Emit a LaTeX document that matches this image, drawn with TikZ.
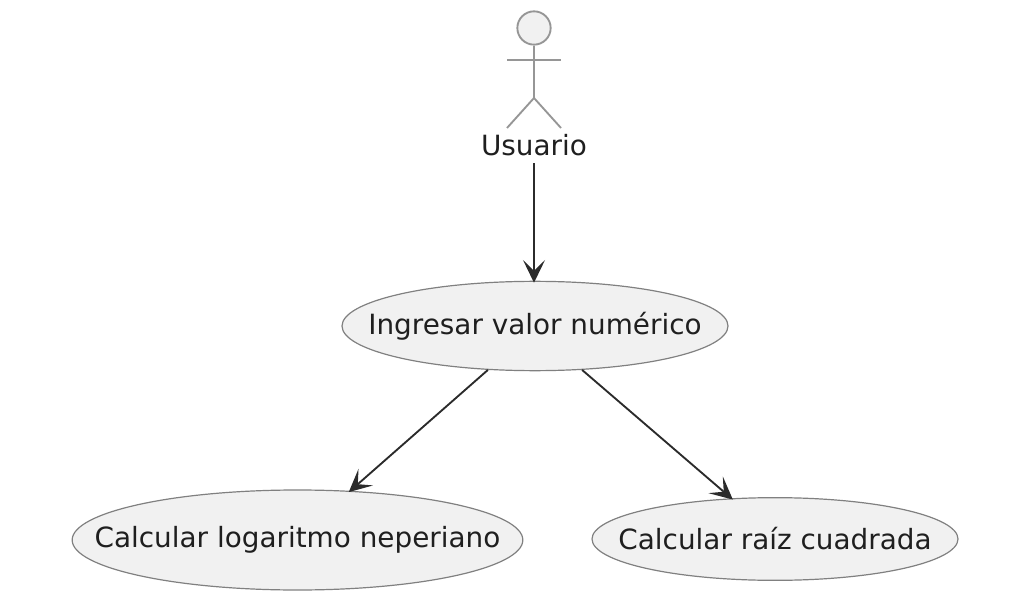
\documentclass[tikz,border=0pt]{standalone}
\usepackage{fontspec}
\setmainfont{DejaVu Sans}
\usetikzlibrary{arrows.meta,shapes.geometric}
\definecolor{ufill}{HTML}{F1F1F1}
\definecolor{uline}{HTML}{808080}
\definecolor{aline}{HTML}{969696}
\definecolor{uarrow}{HTML}{2B2B2B}
\definecolor{utext}{HTML}{1F1F1F}
\tikzset{
  usecase/.style={ellipse,draw=uline,fill=ufill,line width=0.9pt,inner sep=0pt,text=utext,font=\fontsize{20.9}{24}\selectfont},
  actorline/.style={draw=aline,line width=1.4pt},
  conn/.style={draw=uarrow,line width=1.4pt,shorten >=-1.5pt,-{Stealth[length=17pt,width=16.5pt,inset=8pt]}}
}
\begin{document}
\begin{tikzpicture}[x=0.75pt,y=-0.75pt]
\useasboundingbox (0,0) rectangle (1028,602);
\node[usecase,minimum width=289.5pt,minimum height=67pt] (ing) at (535,326) {\makebox[0pt][c]{Ingresar valor numérico}};
\node[usecase,minimum width=338pt,minimum height=75pt] (log) at (297.5,540) {\makebox[0pt][c]{\raisebox{-0.75pt}{Calcular logaritmo neperiano}}};
\node[usecase,minimum width=274.5pt,minimum height=62pt] (raiz) at (775,539) {\makebox[0pt][c]{Calcular raíz cuadrada}};
\node[text=utext,font=\fontsize{20.9}{24}\selectfont,inner sep=0pt] (usr) at (534,145) {Usuario};
\node[circle,draw=aline,fill=ufill,line width=1.4pt,minimum size=25pt,inner sep=0pt] (head) at (534,28) {};
\coordinate (hip) at (534,98);
\draw[actorline] (head.south) -- (hip);
\draw[actorline] (507,60) -- (561,60);
\draw[actorline] (507,128) -- (hip) -- (561,128);
\draw[conn] ([yshift=-5.5pt]usr.south) -- (usr.south |- ing.north);
\draw[conn] (ing.223.5) -- (log.43.1);
\draw[conn] (ing.-43.5) -- (raiz.137.7);
\end{tikzpicture}
\end{document}
